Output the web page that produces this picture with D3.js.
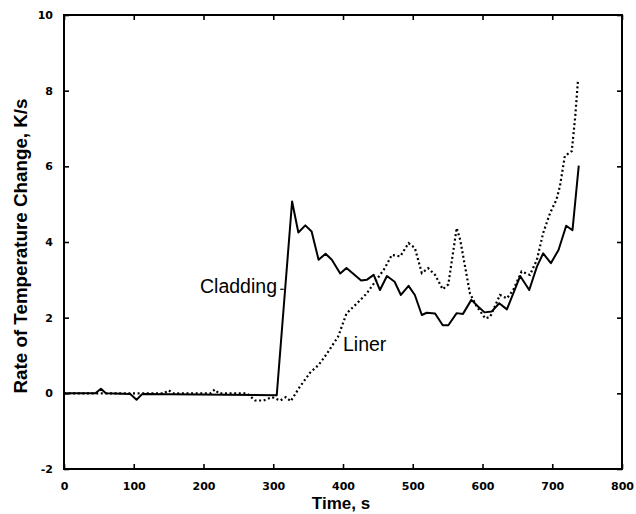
<!DOCTYPE html>
<html>
<head>
<meta charset="utf-8">
<script src="https://cdn.jsdelivr.net/npm/d3@7"></script>
<style>
  html, body { margin: 0; padding: 0; background: #fff; }
  svg { display: block; }
  .tick text { font-family: "DejaVu Sans", sans-serif; font-weight: bold; font-size: 11px; fill: #000; }
  .tick line { stroke: #000; stroke-width: 1.6; }
</style>
</head>
<body>
<svg id="chart" width="636" height="514"></svg>
<script>
// Cladding heating rate (K/s) versus time (s)
const claddingTime = [0, 45, 53, 60, 95, 104, 112, 305, 327, 336, 346, 355, 365, 375, 384, 396, 405, 426, 434, 444, 453, 463, 474, 483, 494, 503, 513, 520, 532, 543, 551, 563, 572, 584, 594, 603, 613, 624, 635, 654, 667, 678, 687, 698, 709, 720, 729, 738];
const claddingRate = [0, 0, 0.12, 0, -0.02, -0.17, -0.02, -0.05, 5.07, 4.25, 4.44, 4.28, 3.53, 3.69, 3.53, 3.17, 3.31, 2.98, 3.0, 3.13, 2.73, 3.1, 2.95, 2.6, 2.84, 2.6, 2.07, 2.13, 2.11, 1.8, 1.8, 2.12, 2.10, 2.47, 2.29, 2.14, 2.16, 2.38, 2.22, 3.10, 2.73, 3.35, 3.70, 3.44, 3.79, 4.43, 4.31, 6.02];

// Liner heating rate (K/s) versus time (s)
const linerTime = [0, 143, 150, 157, 210, 216, 222, 262, 274, 286, 298, 310, 318, 325, 338, 353, 365, 377, 393, 405, 420, 434, 448, 460, 470, 482, 494, 503, 513, 522, 532, 543, 551, 563, 568, 575, 582, 592, 604, 611, 625, 635, 644, 656, 668, 678, 687, 697, 706, 711, 718, 728, 733, 737];
const linerRate = [0, 0, 0.08, 0, 0, 0.1, 0, 0, -0.19, -0.19, -0.1, -0.19, -0.1, -0.21, 0.17, 0.55, 0.75, 1.05, 1.5, 2.11, 2.38, 2.64, 3.0, 3.31, 3.66, 3.62, 3.97, 3.84, 3.18, 3.31, 3.13, 2.75, 2.88, 4.37, 4.06, 3.35, 2.64, 2.29, 1.98, 2.02, 2.6, 2.51, 2.73, 3.22, 3.13, 3.53, 4.24, 4.77, 5.12, 5.47, 6.27, 6.4, 7.33, 8.3];

// Axis ticks
const xTicks = [0, 100, 200, 300, 400, 500, 600, 700, 800];
const yTicks = [-2, 0, 2, 4, 6, 8, 10];

const svg = d3.select("#chart");
const plotLeft = 64, plotRight = 622, plotTop = 15, plotBottom = 469;

const x = d3.scaleLinear().domain([0, 800]).range([plotLeft, plotRight]);
const y = d3.scaleLinear().domain([-2, 10]).range([plotBottom, plotTop]);

const fmt = d => (d < 0 ? "-" + Math.abs(d) : String(d));

// Axes with inward ticks
const gx = svg.append("g").attr("transform", `translate(0,${plotBottom})`)
  .call(d3.axisBottom(x).tickValues(xTicks).tickSize(-5).tickPadding(13).tickFormat(fmt));
const gxTop = svg.append("g").attr("transform", `translate(0,${plotTop})`)
  .call(d3.axisTop(x).tickValues(xTicks).tickSize(-5).tickFormat(""));
const gy = svg.append("g").attr("transform", `translate(${plotLeft},0)`)
  .call(d3.axisLeft(y).tickValues(yTicks).tickSize(-5).tickPadding(11).tickFormat(fmt));
const gyRight = svg.append("g").attr("transform", `translate(${plotRight},0)`)
  .call(d3.axisRight(y).tickValues(yTicks).tickSize(-5).tickFormat(""));
[gx, gxTop, gy, gyRight].forEach(g => g.select(".domain").remove());

// Plot frame
svg.append("rect")
  .attr("x", plotLeft).attr("y", plotTop)
  .attr("width", plotRight - plotLeft).attr("height", plotBottom - plotTop)
  .attr("fill", "none").attr("stroke", "#000").attr("stroke-width", 2);

// Axis titles
svg.append("text")
  .attr("x", (plotLeft + plotRight) / 2 - 2).attr("y", 509)
  .attr("text-anchor", "middle")
  .style("font-family", "'Liberation Sans', Arial, sans-serif")
  .style("font-weight", "bold").style("font-size", "17px")
  .text("Time, s");

svg.append("text")
  .attr("transform", "translate(26.5,246) rotate(-90)")
  .attr("text-anchor", "middle")
  .style("font-family", "'Liberation Sans', Arial, sans-serif")
  .style("font-weight", "bold").style("font-size", "18.8px")
  .text("Rate of Temperature Change, K/s");

// Series lines
const line = d3.line().x(d => x(d[0])).y(d => y(d[1]));
const liner = d3.zip(linerTime, linerRate);
const cladding = d3.zip(claddingTime, claddingRate);

svg.append("path").datum(liner)
  .attr("d", line)
  .attr("fill", "none").attr("stroke", "#000")
  .attr("stroke-width", 2.2).attr("stroke-dasharray", "2,2.6");

svg.append("path").datum(cladding)
  .attr("d", line)
  .attr("fill", "none").attr("stroke", "#000")
  .attr("stroke-width", 2).attr("stroke-linejoin", "round");

// Curve labels
const labelFont = "'Liberation Sans', Arial, sans-serif";
svg.append("text")
  .attr("x", x(195)).attr("y", y(2.65))
  .style("font-family", labelFont).style("font-size", "19.5px")
  .text("Cladding");
svg.append("line")
  .attr("x1", x(310)).attr("x2", x(315))
  .attr("y1", y(2.75)).attr("y2", y(2.75))
  .attr("stroke", "#000").attr("stroke-width", 1.2);

svg.append("text")
  .attr("x", x(400)).attr("y", y(1.13))
  .style("font-family", labelFont).style("font-size", "19.5px")
  .text("Liner");
</script>
</body>
</html>
